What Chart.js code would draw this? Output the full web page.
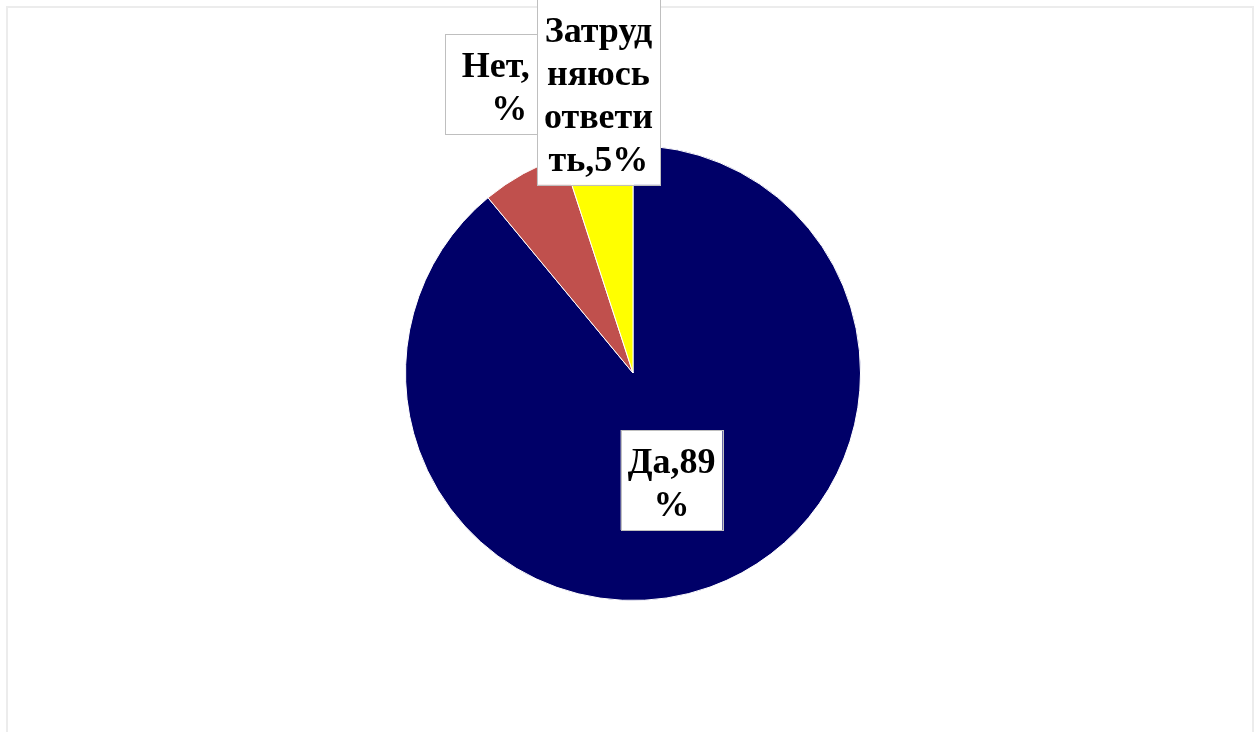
<!DOCTYPE html>
<html>
<head>
<meta charset="utf-8">
<script src="https://cdn.jsdelivr.net/npm/chart.js@4/dist/chart.umd.min.js"></script>
<style>
  html, body { margin: 0; padding: 0; background: #ffffff; width: 1260px; height: 732px; overflow: hidden; }
  #frame { position: absolute; left: 6px; top: 6px; width: 1248px; height: 740px; border: 2px solid #ececec; box-sizing: border-box; }
  #wrap { position: absolute; left: 0; top: 0; width: 1260px; height: 732px; }
</style>
</head>
<body>
<div id="frame"></div>
<div id="wrap"><canvas id="c" width="1260" height="732"></canvas></div>
<script>
const categories = ['Да', 'Нет', 'Затрудняюсь ответить'];
const values = [89, 6, 5];
const labelLines = [
  ['Да,89', '%'],
  ['Нет, 6', '%'],
  ['Затруд', 'няюсь', 'ответи', 'ть,5%']
];
const colors = ['#000068', '#c0504d', '#ffff00'];
// label placement: distance as fraction of radius, extra rotation in degrees, horizontal padding
const labelPlace = [
  { dist: 0.5, rot: 0, padX: 7 },
  { dist: 1.38, rot: 5.6, padX: 17 },
  { dist: 1.245, rot: 2, padX: 7 }
];

const boxLabels = {
  id: 'boxLabels',
  afterDatasetsDraw(chart) {
    const ctx = chart.ctx;
    const meta = chart.getDatasetMeta(0);
    ctx.save();
    ctx.font = 'bold 36px "Liberation Serif", "Times New Roman", serif';
    ctx.textAlign = 'center';
    ctx.textBaseline = 'middle';
    const lineH = 43, padY = 7;
    meta.data.forEach((arc, i) => {
      const p = arc.getProps(['x', 'y', 'startAngle', 'endAngle', 'outerRadius'], true);
      const mid = (p.startAngle + p.endAngle) / 2 + labelPlace[i].rot * Math.PI / 180;
      const r = p.outerRadius * labelPlace[i].dist;
      const cx = p.x + Math.cos(mid) * r;
      const cy = p.y + Math.sin(mid) * r;
      const lines = labelLines[i];
      const padX = labelPlace[i].padX;
      let w = 0;
      lines.forEach(l => { w = Math.max(w, ctx.measureText(l).width); });
      const bw = w + padX * 2, bh = lines.length * lineH + padY * 2;
      const bx = cx - bw / 2, by = cy - bh / 2;
      ctx.fillStyle = '#ffffff';
      ctx.fillRect(bx, by, bw, bh);
      ctx.strokeStyle = '#bfbfbf';
      ctx.lineWidth = 1;
      ctx.strokeRect(Math.round(bx) + 0.5, Math.round(by) + 0.5, Math.round(bw), Math.round(bh));
      ctx.fillStyle = '#000000';
      lines.forEach((l, k) => {
        ctx.fillText(l, cx, by + padY + lineH * (k + 0.5) + 5);
      });
    });
    ctx.restore();
  }
};

new Chart(document.getElementById('c'), {
  type: 'pie',
  data: {
    labels: categories,
    datasets: [{
      data: values,
      backgroundColor: colors,
      borderColor: '#ffffff',
      borderWidth: 1
    }]
  },
  options: {
    responsive: false,
    animation: false,
    layout: { padding: { top: 145, bottom: 131, left: 6, right: 0 } },
    plugins: { legend: { display: false }, tooltip: { enabled: false } }
  },
  plugins: [boxLabels]
});
</script>
</body>
</html>
